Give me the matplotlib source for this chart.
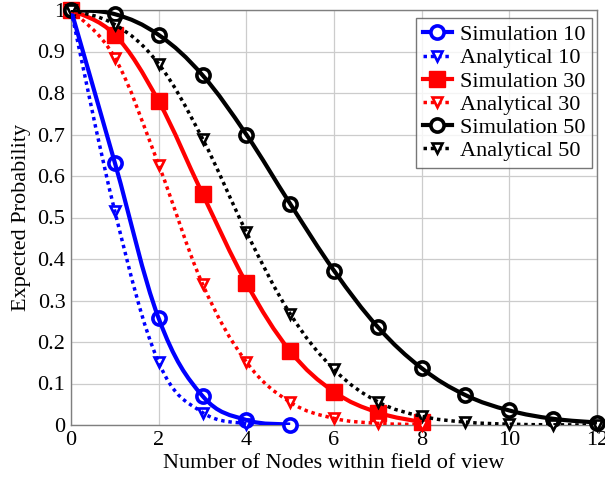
import numpy as np
import matplotlib
matplotlib.use("Agg")
import matplotlib.pyplot as plt
from matplotlib.path import Path
from matplotlib.patches import PathPatch
from matplotlib.lines import Line2D

plt.rcParams['font.family'] = ['Liberation Serif', 'DejaVu Serif']
plt.rcParams['mathtext.fontset'] = 'stix'

# Number of nodes within the field of view
x_sim10 = [0, 1, 2, 3, 4, 5]
y_sim10 = [1.0, 0.632, 0.257, 0.070, 0.012, 0.001]
x_ana10 = [0, 1, 2, 3, 4]
y_ana10 = [1.0, 0.515, 0.151, 0.030, 0.003]

x_sim30 = [0, 1, 2, 3, 4, 5, 6, 7, 8]
y_sim30 = [1.0, 0.940, 0.780, 0.557, 0.342, 0.178, 0.080, 0.030, 0.007]
x_ana30 = [0, 1, 2, 3, 4, 5, 6, 7, 8]
y_ana30 = [1.0, 0.885, 0.627, 0.340, 0.152, 0.055, 0.016, 0.004, 0.001]

x_sim50 = [0, 1, 2, 3, 4, 5, 6, 7, 8, 9, 10, 11, 12]
y_sim50 = [1.0, 0.990, 0.940, 0.843, 0.700, 0.533, 0.372, 0.236, 0.137, 0.072, 0.035, 0.015, 0.006]
x_ana50 = [0, 1, 2, 3, 4, 5, 6, 7, 8, 9, 10, 11, 12]
y_ana50 = [1.0, 0.965, 0.870, 0.690, 0.465, 0.268, 0.134, 0.056, 0.021, 0.007, 0.002, 0.0005, 0.0001]

labels = ["Simulation 10", "Analytical 10", "Simulation 30",
          "Analytical 30", "Simulation 50", "Analytical 50"]

x_ticks = [0, 2, 4, 6, 8, 10, 12]
y_ticks = [0, 0.1, 0.2, 0.3, 0.4, 0.5, 0.6, 0.7, 0.8, 0.9, 1.0]
y_ticklabels = ["0", "0.1", "0.2", "0.3", "0.4", "0.5", "0.6", "0.7", "0.8", "0.9", "1"]


def smooth_path(ax, xs, ys, tension=0.55):
    """Cubic Bezier path through the points in display space (pgf-like smooth)."""
    pts = ax.transData.transform(np.column_stack([xs, ys]))
    n = len(pts)
    verts = [pts[0]]
    codes = [Path.MOVETO]
    for i in range(n - 1):
        p0 = pts[i - 1] if i > 0 else pts[i]
        p1 = pts[i]
        p2 = pts[i + 1]
        p3 = pts[i + 2] if i + 2 < n else pts[i + 1]
        k = tension / 3.0
        c1 = p1 + (p2 - p0) * k
        c2 = p2 - (p3 - p1) * k
        verts += [c1, c2, p2]
        codes += [Path.CURVE4] * 3
    return Path(verts, codes)


fig = plt.figure(figsize=(6.05, 4.79), dpi=100)
ax = fig.add_axes([71 / 605, 54 / 479, 526 / 605, 415 / 479])
ax.set_xlim(0, 12)
ax.set_ylim(0, 1)
ax.set_xticks(x_ticks)
ax.set_yticks(y_ticks)
ax.set_yticklabels(y_ticklabels)
ax.grid(True, color='#cccccc', linewidth=0.9)
ax.set_axisbelow(True)
ax.tick_params(direction='in', length=0, labelsize=16, pad=4)
for s in ax.spines.values():
    s.set_color('#7f7f7f')
    s.set_linewidth(1.0)
ax.set_xlabel("Number of Nodes within field of view", fontsize=16, labelpad=3)
ax.set_ylabel("Expected Probability", fontsize=16, labelpad=5)

series = [
    (x_sim10, y_sim10, 'blue', 'solid', 'o'),
    (x_ana10, y_ana10, 'blue', 'dotted', 'v'),
    (x_sim30, y_sim30, 'red', 'solid', 's'),
    (x_ana30, y_ana30, 'red', 'dotted', 'v'),
    (x_sim50, y_sim50, 'black', 'solid', 'o'),
    (x_ana50, y_ana50, 'black', 'dotted', 'v'),
]

fig.canvas.draw()
handles = []
for (xs, ys, col, style, mk), lab in zip(series, labels):
    if style == 'solid':
        lw, ls = 3.0, '-'
    else:
        lw, ls = 2.5, (0, (1, 1.1))
    path = smooth_path(ax, xs, ys)
    patch = PathPatch(path, transform=None, facecolor='none', edgecolor=col,
                      linewidth=lw, linestyle=ls, capstyle='butt', zorder=3)
    patch.set_clip_path(ax.patch)
    fig.add_artist(patch)
    if mk == 'o':
        mkw = dict(marker='o', markersize=9.5, markerfacecolor='white',
                   markeredgecolor=col, markeredgewidth=2.6)
    elif mk == 's':
        mkw = dict(marker='s', markersize=11.5, markerfacecolor=col,
                   markeredgecolor=col, markeredgewidth=1)
    else:
        mkw = dict(marker='v', markersize=7.5, markerfacecolor='white',
                   markeredgecolor=col, markeredgewidth=1.9)
    ax.plot(xs, ys, linestyle='none', zorder=4, clip_on=False, **mkw)
    handles.append(Line2D([], [], color=col, linewidth=lw, linestyle=ls,
                          label=lab, **mkw))

leg = ax.legend(handles=handles, loc='upper right', fontsize=16,
                frameon=True, fancybox=False, handlelength=1.3,
                handletextpad=0.35, borderpad=0.3, labelspacing=0.12,
                borderaxespad=0, bbox_to_anchor=(0.99, 0.981))
leg.get_frame().set_edgecolor('#555555')
leg.get_frame().set_linewidth(1.0)
leg.set_zorder(6)

fig.savefig("out.png", dpi=100)
